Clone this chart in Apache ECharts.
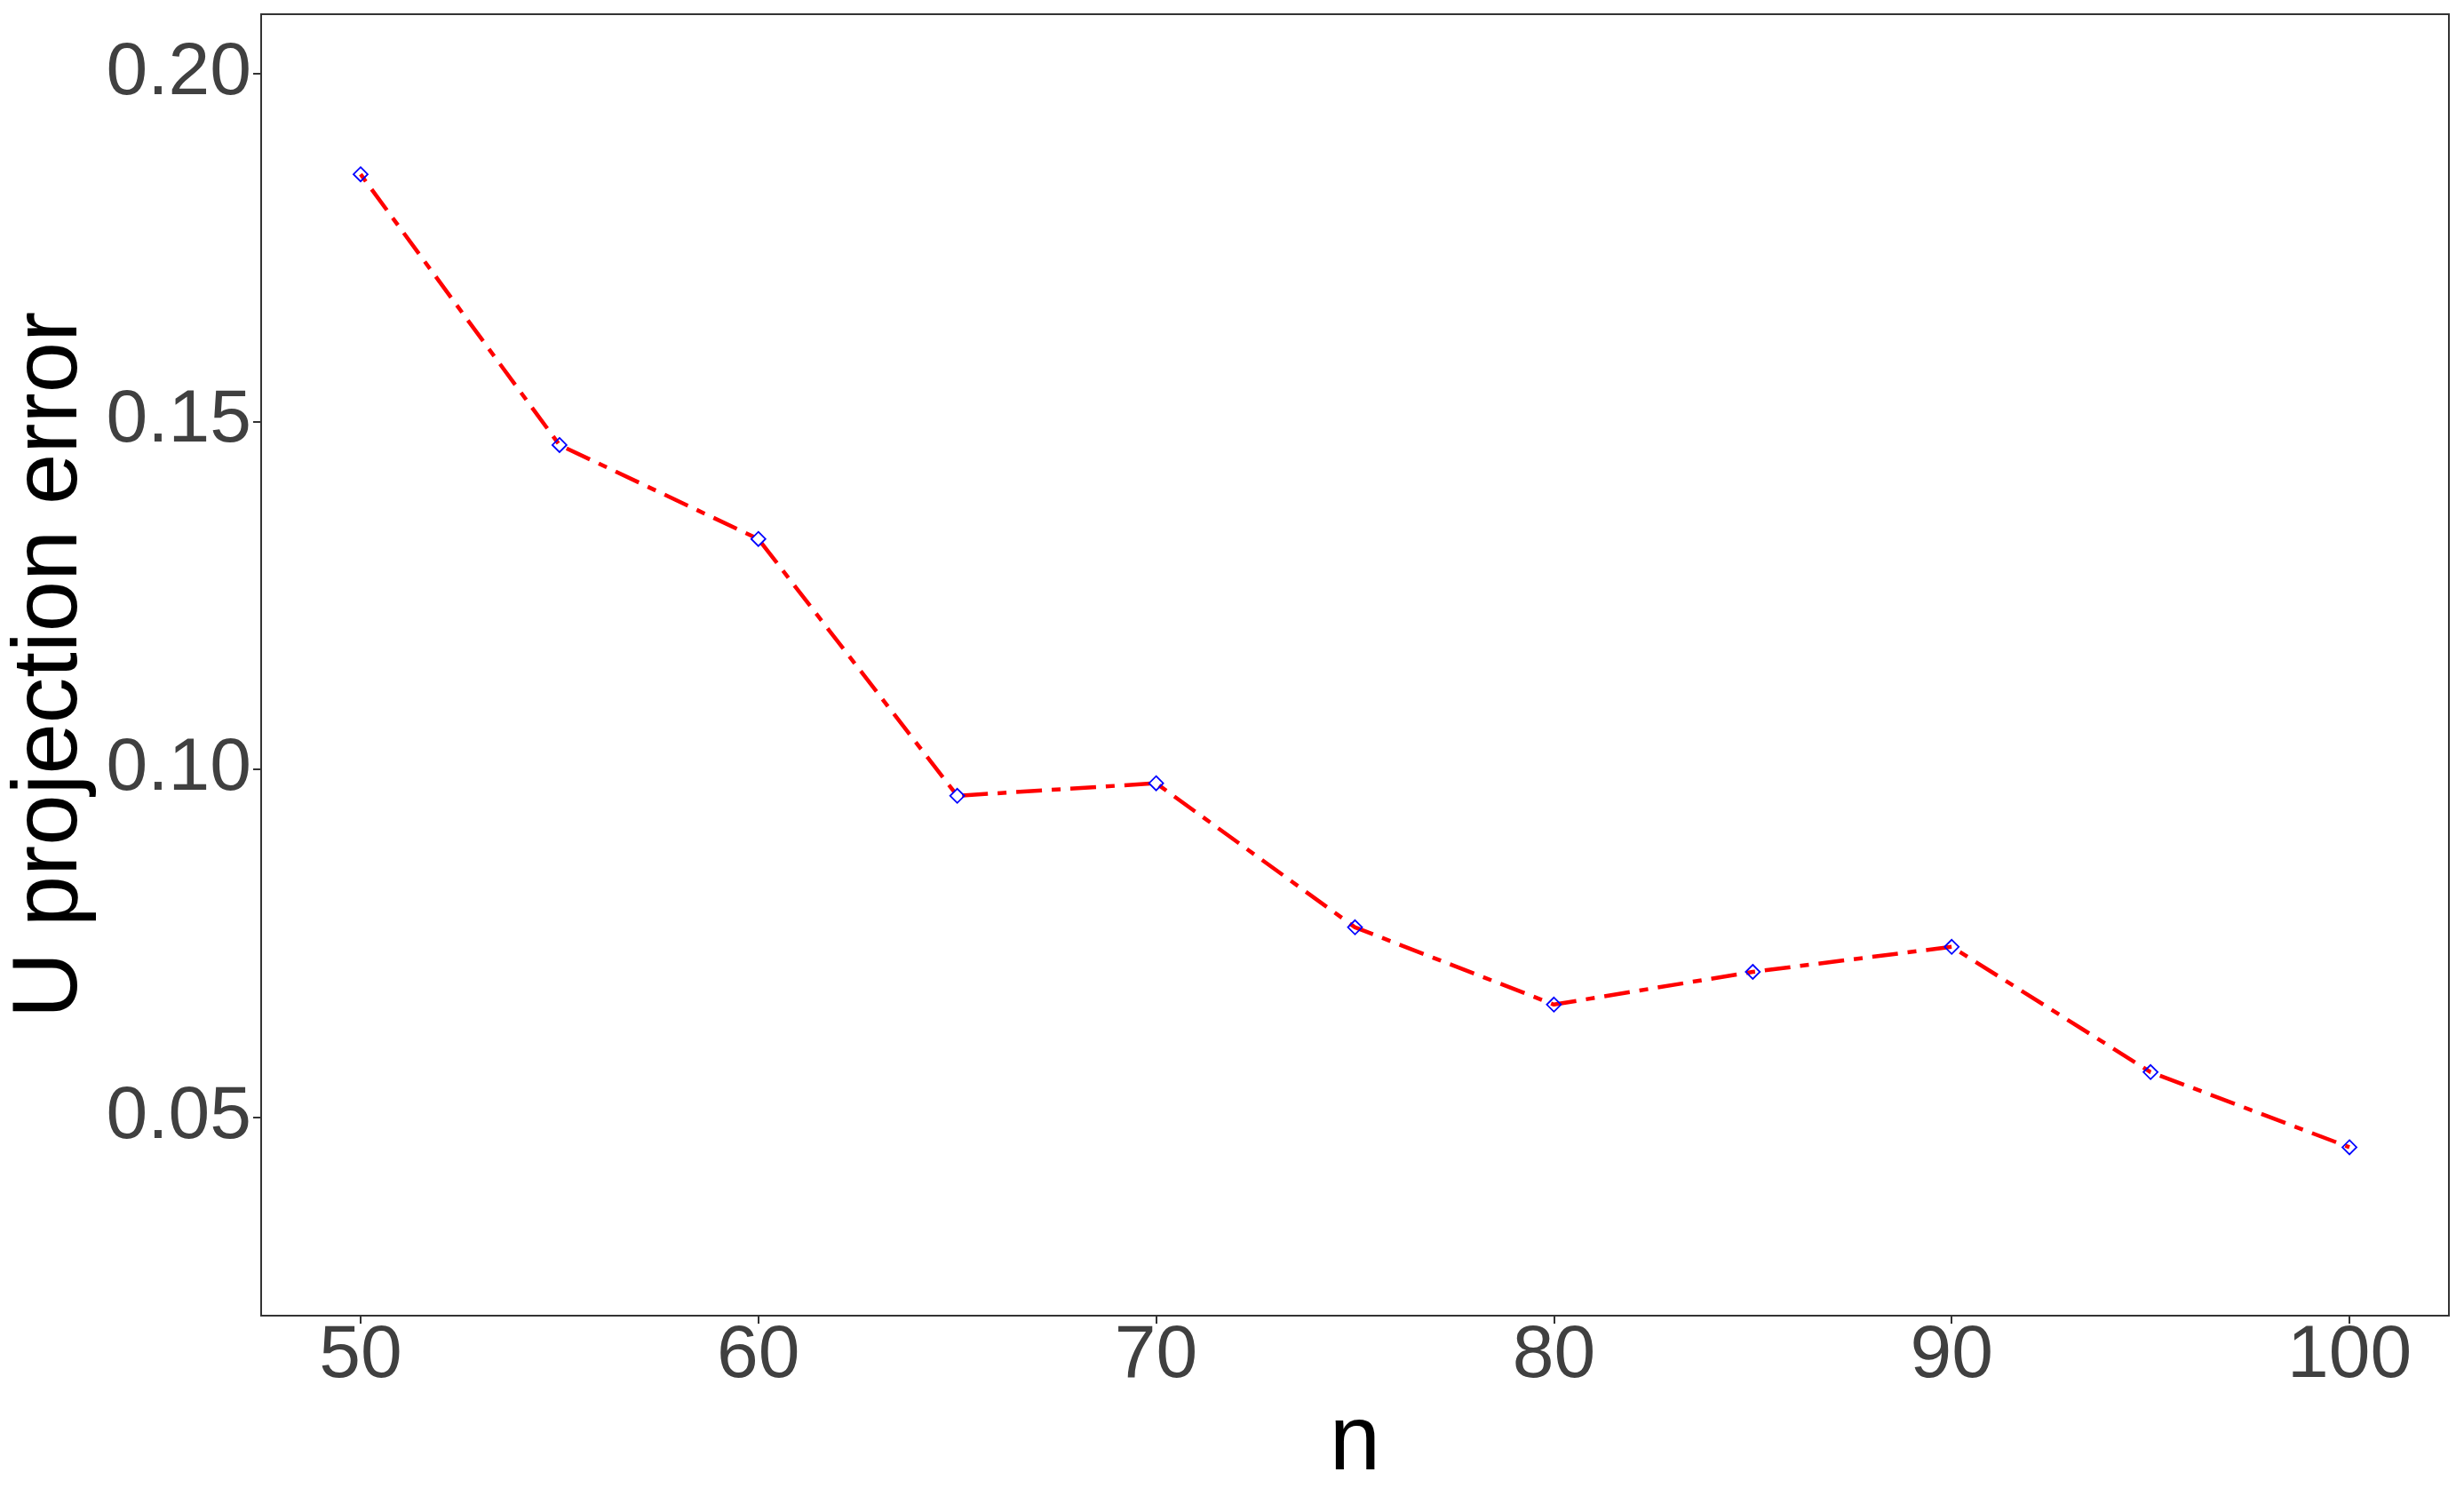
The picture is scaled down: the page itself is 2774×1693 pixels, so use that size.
<!DOCTYPE html>
<html>
<head>
<meta charset="utf-8">
<script src="https://cdn.jsdelivr.net/npm/echarts@6/dist/echarts.min.js"></script>
<style>
  html, body { margin: 0; padding: 0; background: #fff; }
  #chart { width: 2774px; height: 1693px; }
</style>
</head>
<body>
<div id="chart"></div>
<script>
// sample sizes and the projection error
var nValues = [50, 55, 60, 65, 70, 75, 80, 85, 90, 95, 100];
var errors = [0.1855, 0.1466, 0.1331, 0.0962, 0.0980, 0.0773, 0.0662, 0.0709, 0.0745, 0.0565, 0.0457];
var xTicks = [50, 60, 70, 80, 90, 100];
var yTicks = [0.05, 0.10, 0.15, 0.20];

var chart = echarts.init(document.getElementById('chart'));

var fontFam = '"Liberation Sans", Arial, sans-serif';

var option = {
  backgroundColor: '#fff',
  animation: false,
  grid: {
    left: 294,
    right: 17,
    top: 16,
    bottom: 212,
    show: true,
    borderColor: '#333333',
    borderWidth: 2,
    outerBoundsMode: 'none'
  },
  xAxis: {
    type: 'value',
    min: 47.5,
    max: 102.5,
    name: 'n',
    nameLocation: 'middle',
    nameGap: 91,
    nameTextStyle: { fontSize: 103, color: '#000', fontFamily: fontFam },
    axisLine: { show: false },
    axisTick: { show: true, length: 9, customValues: xTicks, lineStyle: { color: '#333333', width: 2 } },
    axisLabel: {
      customValues: xTicks,
      fontSize: 84,
      color: '#404040',
      fontFamily: fontFam,
      margin: 4
    },
    splitLine: { show: false }
  },
  yAxis: {
    type: 'value',
    min: 0.0215,
    max: 0.2085,
    name: 'U projection error',
    nameLocation: 'middle',
    nameGap: 185,
    nameRotate: 90,
    nameTextStyle: { fontSize: 103, color: '#000', fontFamily: fontFam },
    axisLine: { show: false },
    axisTick: { show: true, length: 9, customValues: yTicks, lineStyle: { color: '#333333', width: 2 } },
    axisLabel: {
      customValues: yTicks,
      fontSize: 84,
      color: '#404040',
      fontFamily: fontFam,
      margin: 11,
      formatter: function (v) { return v.toFixed(2); }
    },
    splitLine: { show: false }
  },
  series: [{
    type: 'line',
    data: nValues.map(function (n, i) { return [n, errors[i]]; }),
    lineStyle: { color: '#ff0000', width: 4.5, type: [10, 11, 29, 11], cap: 'butt' },
    symbol: 'diamond',
    symbolSize: 16,
    showSymbol: true,
    itemStyle: { color: 'transparent', borderColor: '#0000ff', borderWidth: 1.8 },
    z: 3
  }]
};

chart.setOption(option);
</script>
</body>
</html>
